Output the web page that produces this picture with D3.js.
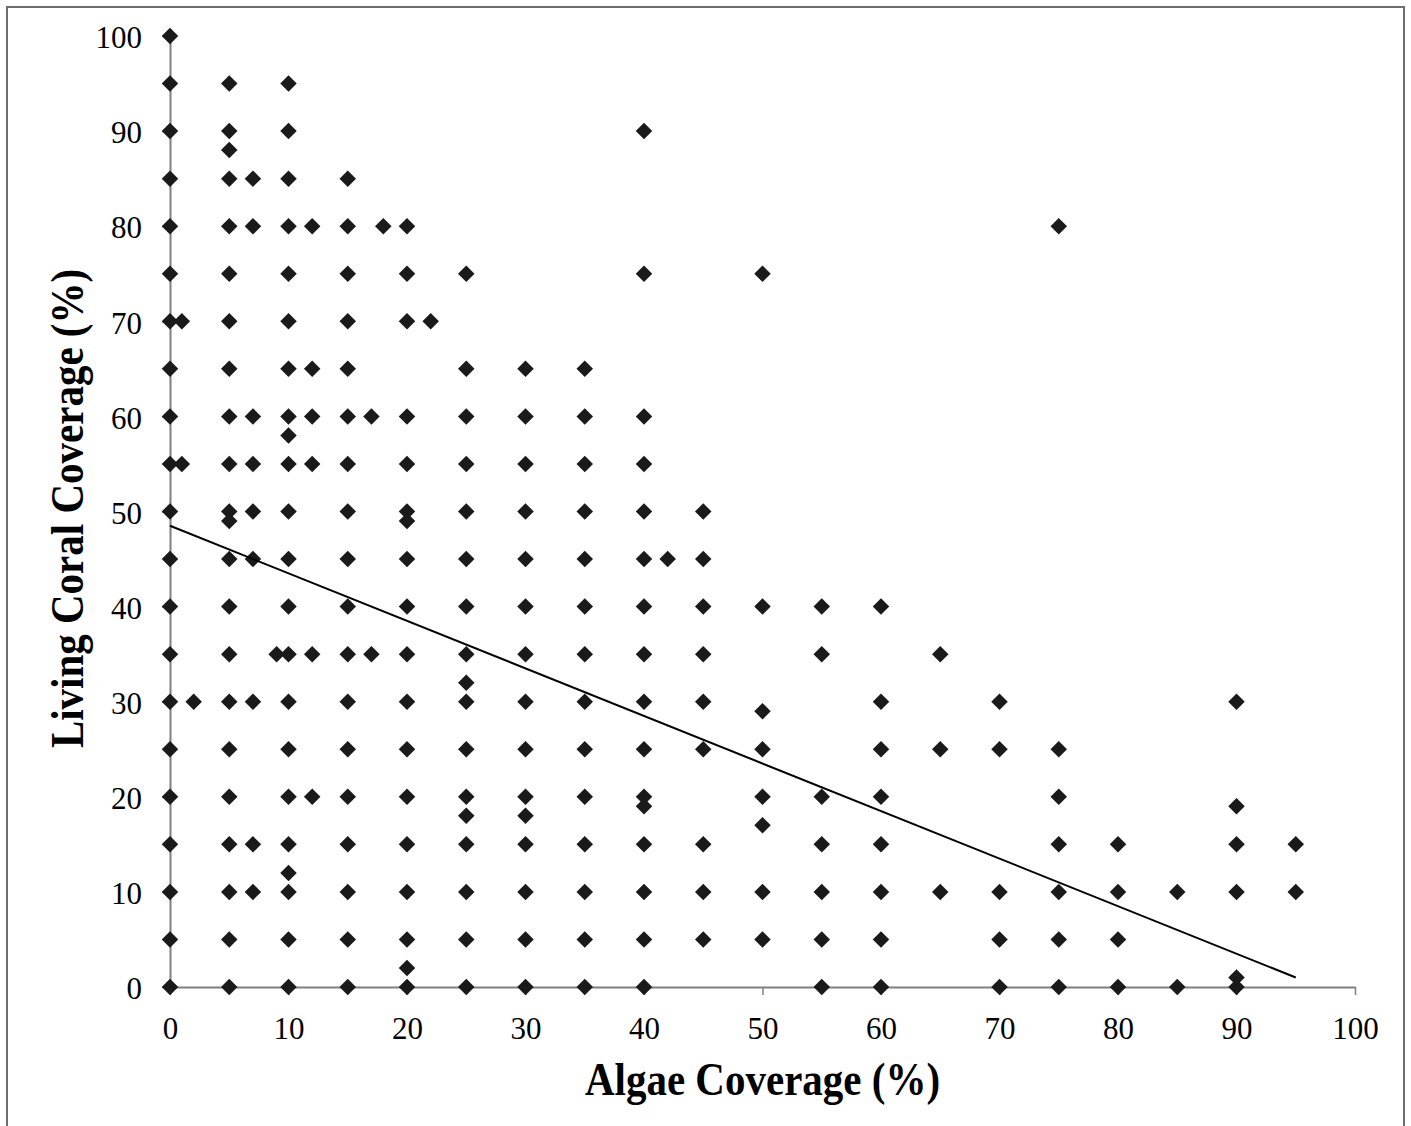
<!DOCTYPE html>
<html>
<head>
<meta charset="utf-8">
<script src="https://cdn.jsdelivr.net/npm/d3@7"></script>
<style>
  html, body { margin: 0; padding: 0; background: #fff; }
  svg { display: block; }
</style>
</head>
<body>
<svg id="chart" width="1411" height="1126"></svg>
<script>
// ---- Data ----
// [algae coverage %, living coral coverage %]
const observations = [
  [0,100],[0,95],[0,90],[0,85],[0,80],[0,75],[0,70],[0,65],[0,60],[0,55],[0,50],[0,45],[0,40],[0,35],[0,30],[0,25],[0,20],[0,15],[0,10],[0,5],[0,0],
  [1,70],[1,55],
  [2,30],
  [5,95],[5,90],[5,88],[5,85],[5,80],[5,75],[5,70],[5,65],[5,60],[5,55],[5,50],[5,49],[5,45],[5,40],[5,35],[5,30],[5,25],[5,20],[5,15],[5,10],[5,5],[5,0],
  [7,85],[7,80],[7,60],[7,55],[7,50],[7,45],[7,30],[7,15],[7,10],
  [9,35],
  [10,95],[10,90],[10,85],[10,80],[10,75],[10,70],[10,65],[10,60],[10,58],[10,55],[10,50],[10,45],[10,40],[10,35],[10,30],[10,25],[10,20],[10,15],[10,12],[10,10],[10,5],[10,0],
  [12,80],[12,65],[12,60],[12,55],[12,35],[12,20],
  [15,85],[15,80],[15,75],[15,70],[15,65],[15,60],[15,55],[15,50],[15,45],[15,40],[15,35],[15,30],[15,25],[15,20],[15,15],[15,10],[15,5],[15,0],
  [17,60],[17,35],
  [18,80],
  [20,80],[20,75],[20,70],[20,60],[20,55],[20,50],[20,49],[20,45],[20,40],[20,35],[20,30],[20,25],[20,20],[20,15],[20,10],[20,5],[20,2],[20,0],
  [22,70],
  [25,75],[25,65],[25,60],[25,55],[25,50],[25,45],[25,40],[25,35],[25,32],[25,30],[25,25],[25,20],[25,18],[25,15],[25,10],[25,5],[25,0],
  [30,65],[30,60],[30,55],[30,50],[30,45],[30,40],[30,35],[30,30],[30,25],[30,20],[30,18],[30,15],[30,10],[30,5],[30,0],
  [35,65],[35,60],[35,55],[35,50],[35,45],[35,40],[35,35],[35,30],[35,25],[35,20],[35,15],[35,10],[35,5],[35,0],
  [40,90],[40,75],[40,60],[40,55],[40,50],[40,45],[40,40],[40,35],[40,30],[40,25],[40,20],[40,19],[40,15],[40,10],[40,5],[40,0],
  [42,45],
  [45,50],[45,45],[45,40],[45,35],[45,30],[45,25],[45,15],[45,10],[45,5],
  [50,75],[50,40],[50,29],[50,25],[50,20],[50,17],[50,10],[50,5],
  [55,40],[55,35],[55,20],[55,15],[55,10],[55,5],[55,0],
  [60,40],[60,30],[60,25],[60,20],[60,15],[60,10],[60,5],[60,0],
  [65,35],[65,25],[65,10],
  [70,30],[70,25],[70,10],[70,5],[70,0],
  [75,80],[75,25],[75,20],[75,15],[75,10],[75,5],[75,0],
  [80,15],[80,10],[80,5],[80,0],
  [85,10],[85,0],
  [90,30],[90,19],[90,15],[90,10],[90,1],[90,0],
  [95,15],[95,10]
];

// Linear trend line as drawn (start and end in data units)
const trendX = [0, 95];
const trendY = [48.5, 1.0];

const xTicks = [0, 10, 20, 30, 40, 50, 60, 70, 80, 90, 100];
const yTicks = [0, 10, 20, 30, 40, 50, 60, 70, 80, 90, 100];

const xTitle = "Algae Coverage (%)";
const yTitle = "Living Coral Coverage (%)";

(function draw() {
  const svg = d3.select("#chart");
  const plotLeft = 170, plotRight = 1355, plotTop = 36, plotBottom = 987;

  const x = d3.scaleLinear().domain([0, 100]).range([plotLeft, plotRight]);
  const y = d3.scaleLinear().domain([0, 100]).range([plotBottom, plotTop]);

  // outer frame
  svg.append("rect")
    .attr("x", 7).attr("y", 7)
    .attr("width", 1397).attr("height", 1135)
    .attr("fill", "none")
    .attr("stroke", "#6e6e6e")
    .attr("stroke-width", 2);

  const axisColor = "#7f7f7f";
  const serif = "'Liberation Serif', 'Times New Roman', serif";

  // X axis
  const gx = svg.append("g")
    .attr("transform", `translate(0,${plotBottom})`)
    .call(d3.axisBottom(x).tickValues(xTicks).tickSize(8).tickSizeOuter(0).tickPadding(22).tickFormat(d3.format("d")));
  gx.select(".domain").attr("stroke", axisColor).attr("stroke-width", 2);
  gx.selectAll(".tick line").attr("stroke", axisColor).attr("stroke-width", 1.5);
  gx.selectAll(".tick text")
    .attr("fill", "#000")
    .style("font-family", serif)
    .style("font-size", "31px");

  // Y axis
  const gy = svg.append("g")
    .attr("transform", `translate(${plotLeft},0)`)
    .call(d3.axisLeft(y).tickValues(yTicks).tickSize(8).tickSizeOuter(0).tickPadding(20).tickFormat(d3.format("d")));
  gy.select(".domain").attr("stroke", axisColor).attr("stroke-width", 2);
  gy.selectAll(".tick line").attr("stroke", axisColor).attr("stroke-width", 1.5);
  gy.selectAll(".tick text")
    .attr("fill", "#000")
    .attr("dy", "0.38em")
    .style("font-family", serif)
    .style("font-size", "31px");

  // Points (diamonds)
  const diamond = d3.symbol().type(d3.symbolSquare).size(136);
  svg.append("g")
    .selectAll("path")
    .data(observations)
    .join("path")
    .attr("d", diamond)
    .attr("transform", d => `translate(${x(d[0])},${y(d[1])}) rotate(45)`)
    .attr("fill", "#1a1a1a");

  // Trend line
  svg.append("line")
    .attr("x1", x(trendX[0])).attr("y1", y(trendY[0]))
    .attr("x2", x(trendX[1])).attr("y2", y(trendY[1]))
    .attr("stroke", "#000")
    .attr("stroke-width", 2);

  // Axis titles
  svg.append("text")
    .attr("transform", `translate(${(plotLeft + plotRight) / 2},1095) scale(1,1.12)`)
    .attr("text-anchor", "middle")
    .style("font-family", serif)
    .style("font-weight", "bold")
    .style("font-size", "41px")
    .text(xTitle);

  svg.append("text")
    .attr("transform", `translate(83,${(plotTop + plotBottom) / 2 - 3}) rotate(-90) scale(1,1.12)`)
    .attr("text-anchor", "middle")
    .style("font-family", serif)
    .style("font-weight", "bold")
    .style("font-size", "41px")
    .text(yTitle);
})();
</script>
</body>
</html>
